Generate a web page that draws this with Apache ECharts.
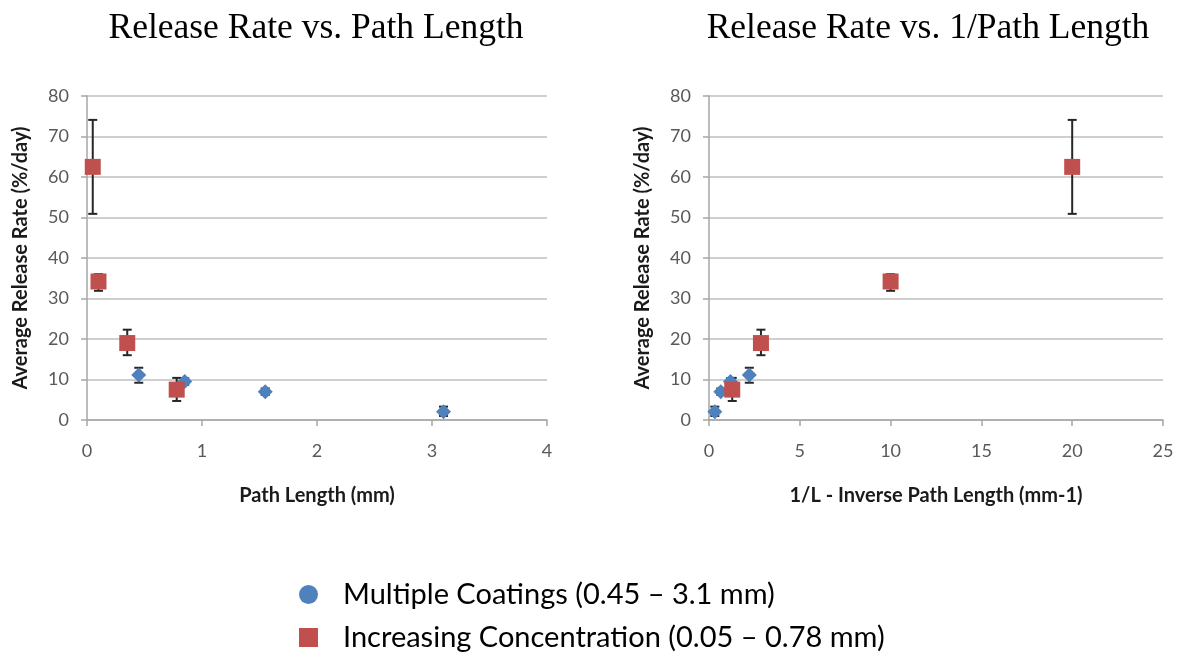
<!DOCTYPE html>
<html>
<head>
<meta charset="utf-8">
<script src="https://cdn.jsdelivr.net/npm/echarts@6/dist/echarts.min.js"></script>
<style>
  html, body { margin: 0; padding: 0; background: #fff; }
  #chart { width: 1181px; height: 660px; }
</style>
</head>
<body>
<div id="chart"></div>
<script>
// Multiple coatings: path length (mm), inverse path length (1/mm), rate and error range
const coatPath = [0.45, 0.85, 1.55, 3.1];
const coatInv = [2.22, 1.18, 0.65, 0.32];
const coatRate = [11.1, 9.5, 7.0, 2.05];
const coatLow = [9.2, 8.7, 6.2, 1.0];
const coatHigh = [12.9, 10.3, 7.8, 3.3];

// Increasing concentration
const concPath = [0.05, 0.1, 0.35, 0.78];
const concInv = [20, 10, 2.86, 1.28];
const concRate = [62.5, 34.2, 19.0, 7.5];
const concLow = [50.9, 31.9, 16.0, 4.7];
const concHigh = [74.1, 36.0, 22.3, 10.4];

const xTicksLeft = { min: 0, max: 4, interval: 1 };
const xTicksRight = { min: 0, max: 25, interval: 5 };
const yTicks = { min: 0, max: 80, interval: 10 };

const BLUE = '#4F81BD';
const RED = '#C0504D';
const nameCoat = 'Multiple Coatings (0.45 \u2013 3.1 mm)';
const nameConc = 'Increasing Concentration (0.05 \u2013 0.78 mm)';

function pts(xs, ys) { return xs.map((x, i) => [x, ys[i]]); }
function bars(xs, lo, hi) { return xs.map((x, i) => [x, lo[i], hi[i]]); }

// vertical error bar with end caps
function errorRender(params, api) {
  const x = api.value(0);
  const top = api.coord([x, api.value(2)]);
  const bot = api.coord([x, api.value(1)]);
  const w = 4.5;
  const style = { stroke: '#262626', lineWidth: 2 };
  return {
    type: 'group',
    children: [
      { type: 'line', shape: { x1: top[0], y1: top[1], x2: bot[0], y2: bot[1] }, style },
      { type: 'line', shape: { x1: top[0] - w, y1: top[1], x2: top[0] + w, y2: top[1] }, style },
      { type: 'line', shape: { x1: bot[0] - w, y1: bot[1], x2: bot[0] + w, y2: bot[1] }, style }
    ]
  };
}

const tickFont = { color: '#595959', fontSize: 18, fontFamily: 'Lato' };
const nameFont = { color: '#1a1a1a', fontSize: 20, fontWeight: 'bold', fontFamily: 'Lato' };
const axisGray = '#A6A6A6';

function xAxis(idx, t, name) {
  return {
    type: 'value', gridIndex: idx, min: t.min, max: t.max, interval: t.interval,
    name: name, nameLocation: 'middle', nameGap: 66, nameTextStyle: nameFont,
    axisLine: { show: true, lineStyle: { color: axisGray, width: 1.5 } },
    axisTick: { show: true, length: 6, lineStyle: { color: axisGray, width: 1.5 } },
    axisLabel: Object.assign({ margin: 22 }, tickFont),
    splitLine: { show: false }
  };
}
function yAxis(idx) {
  return {
    type: 'value', gridIndex: idx, min: yTicks.min, max: yTicks.max, interval: yTicks.interval,
    name: 'Average Release Rate (%/day)', nameLocation: 'middle', nameGap: 56, nameTextStyle: nameFont,
    axisLine: { show: true, lineStyle: { color: axisGray, width: 1.5 } },
    axisTick: { show: true, length: 6, lineStyle: { color: axisGray, width: 1.5 } },
    axisLabel: Object.assign({ margin: 18 }, tickFont),
    splitLine: { show: true, lineStyle: { color: '#BFBFBF', width: 1.5 } }
  };
}

const chart = echarts.init(document.getElementById('chart'), null, { renderer: 'canvas' });
chart.setOption({
  backgroundColor: '#fff',
  animation: false,
  title: [
    { text: 'Release Rate vs. Path Length', left: 311, top: 6, textAlign: 'center',
      textStyle: { fontFamily: 'Liberation Serif', fontWeight: 'normal', fontSize: 35.5, color: '#000' } },
    { text: 'Release Rate vs. 1/Path Length', left: 923, top: 6, textAlign: 'center',
      textStyle: { fontFamily: 'Liberation Serif', fontWeight: 'normal', fontSize: 35.5, color: '#000' } }
  ],
  grid: [
    { left: 87, top: 96, width: 460, height: 324 },
    { left: 709, top: 96, width: 454, height: 324 }
  ],
  legend: {
    orient: 'vertical', left: 299, top: 580, padding: 0, itemGap: 14, itemWidth: 19, itemHeight: 19,
    textStyle: { fontFamily: 'Lato', fontSize: 29, color: '#000', padding: [0, 0, 0, 20] },
    data: [
      { name: nameCoat, icon: 'circle', itemStyle: { color: BLUE } },
      { name: nameConc, icon: 'rect', itemStyle: { color: RED } }
    ]
  },
  xAxis: [xAxis(0, xTicksLeft, 'Path Length (mm)'), xAxis(1, xTicksRight, '1/L - Inverse Path Length (mm-1)')],
  yAxis: [yAxis(0), yAxis(1)],
  series: [
    { type: 'custom', name: 'errCoatL', xAxisIndex: 0, yAxisIndex: 0, renderItem: errorRender, data: bars(coatPath, coatLow, coatHigh), z: 2 },
    { type: 'custom', name: 'errConcL', xAxisIndex: 0, yAxisIndex: 0, renderItem: errorRender, data: bars(concPath, concLow, concHigh), z: 2 },
    { type: 'custom', name: 'errCoatR', xAxisIndex: 1, yAxisIndex: 1, renderItem: errorRender, data: bars(coatInv, coatLow, coatHigh), z: 2 },
    { type: 'custom', name: 'errConcR', xAxisIndex: 1, yAxisIndex: 1, renderItem: errorRender, data: bars(concInv, concLow, concHigh), z: 2 },
    { type: 'scatter', name: nameCoat, xAxisIndex: 0, yAxisIndex: 0, symbol: 'diamond', symbolSize: 15,
      itemStyle: { color: BLUE, opacity: 1 }, data: pts(coatPath, coatRate), z: 3 },
    { type: 'scatter', name: nameConc, xAxisIndex: 0, yAxisIndex: 0, symbol: 'rect', symbolSize: 16,
      itemStyle: { color: RED, opacity: 1 }, data: pts(concPath, concRate), z: 3 },
    { type: 'scatter', name: nameCoat, xAxisIndex: 1, yAxisIndex: 1, symbol: 'diamond', symbolSize: 15,
      itemStyle: { color: BLUE, opacity: 1 }, data: pts(coatInv, coatRate), z: 3 },
    { type: 'scatter', name: nameConc, xAxisIndex: 1, yAxisIndex: 1, symbol: 'rect', symbolSize: 16,
      itemStyle: { color: RED, opacity: 1 }, data: pts(concInv, concRate), z: 3 }
  ]
});
</script>
</body>
</html>
